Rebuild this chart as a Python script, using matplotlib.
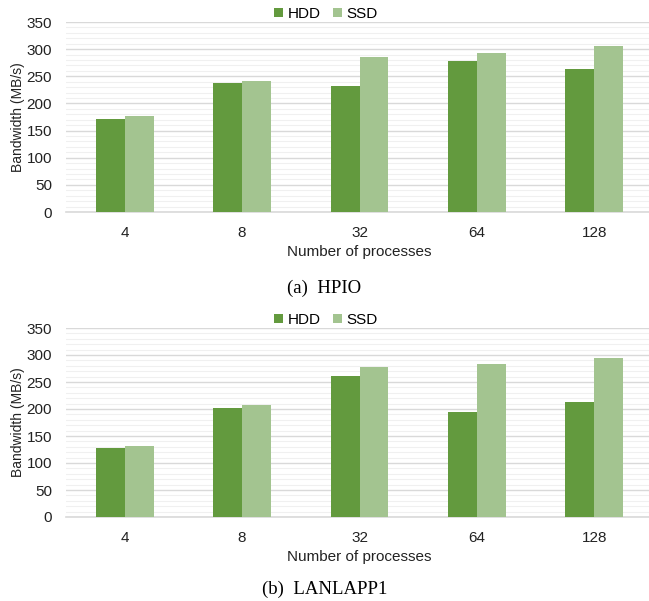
import numpy as np
import matplotlib
matplotlib.use("Agg")
import matplotlib.pyplot as plt
from matplotlib.ticker import MultipleLocator

plt.rcParams["font.family"] = ["Liberation Sans", "DejaVu Sans"]

procs = ["4", "8", "32", "64", "128"]
hpio_hdd = [171, 237, 232, 278, 263]
hpio_ssd = [177, 241, 285, 292, 306]
lanl_hdd = [128, 202, 262, 195, 213]
lanl_ssd = [131, 207, 278, 284, 295]

HDD_COLOR = "#639A3E"
SSD_COLOR = "#A3C490"

W, H = 649, 601
fig = plt.figure(figsize=(W / 100, H / 100), dpi=100)


def panel(top, bottom, hdd, ssd, caption, cap_base):
    # plot area runs a bit past the right edge, like the Excel export
    ax = fig.add_axes([66 / W, 1 - bottom / H, 587 / W, (bottom - top) / H])
    x = np.arange(len(procs))
    bw = 0.247
    ax.bar(x - bw / 2, hdd, bw, color=HDD_COLOR, label="HDD", zorder=3)
    ax.bar(x + bw / 2, ssd, bw, color=SSD_COLOR, label="SSD", zorder=3)
    ax.set_xlim(-0.5, len(procs) - 0.5)
    ax.set_ylim(0, 350)
    ax.yaxis.set_major_locator(MultipleLocator(50))
    ax.yaxis.set_minor_locator(MultipleLocator(10))
    ax.grid(axis="y", which="major", color="#D9D9D9", linewidth=1.0, zorder=0)
    ax.grid(axis="y", which="minor", color="#F0F0F0", linewidth=0.8, zorder=0)
    ax.set_xticks(x)
    ax.set_xticklabels(procs)
    ax.tick_params(axis="both", which="both", length=0, labelsize=11, colors="#222222")
    ax.tick_params(axis="x", pad=10)
    ax.tick_params(axis="y", pad=10)
    for s in ("top", "right", "left"):
        ax.spines[s].set_visible(False)
    ax.spines["bottom"].set_color("#D9D9D9")
    ax.spines["bottom"].set_linewidth(1.2)
    ax.set_ylabel("Bandwidth (MB/s)", fontsize=10, labelpad=1, color="#222222")
    ax.set_xlabel("Number of processes", fontsize=11, labelpad=4, color="#222222")
    ax.legend(loc="lower center", bbox_to_anchor=(0.443, 0.965), ncol=2, frameon=False,
              fontsize=11, handlelength=0.6, handleheight=0.6, handletextpad=0.3,
              columnspacing=0.8, borderpad=0)
    fig.text(0.5, 1 - cap_base / H, caption, ha="center", va="baseline",
             fontsize=13.5, family=["Liberation Serif", "DejaVu Serif"])


panel(22, 212, hpio_hdd, hpio_ssd, "(a)  HPIO", 293)
panel(328, 517, lanl_hdd, lanl_ssd, "(b)  LANLAPP1", 594)

fig.savefig("out.png", dpi=100)
